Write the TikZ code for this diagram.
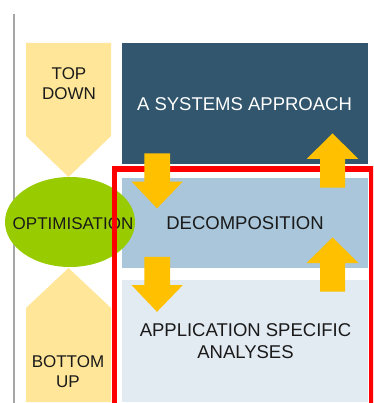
\documentclass[tikz,border=0pt]{standalone}
\usepackage{fontspec}
\setmainfont{Liberation Sans}
\usetikzlibrary{shapes.geometric}
\definecolor{darkbox}{RGB}{49,86,109}
\definecolor{midbox}{RGB}{169,198,218}
\definecolor{lightbox}{RGB}{226,234,242}
\definecolor{pent}{RGB}{255,230,153}
\definecolor{optgreen}{RGB}{153,204,0}
\definecolor{arrowyel}{RGB}{255,192,0}
\definecolor{framered}{RGB}{255,0,0}
\definecolor{axisgray}{RGB}{166,166,166}
\definecolor{txt}{RGB}{26,26,26}
\tikzset{
  lefttext/.style={font=\fontsize{17}{20}\selectfont, text=txt, align=center, inner sep=0pt},
  righttext/.style={font=\fontsize{18.5}{22.5}\selectfont, text=txt, align=center, inner sep=0pt},
  blockarrow/.style={fill=arrowyel, draw=none},
  redframe/.style={draw=framered, line width=5pt},
}
\begin{document}
\begin{tikzpicture}[x=1pt,y=-1pt]
\clip (0,0) rectangle (373,403);
\fill[white] (0,0) rectangle (373,403);
% axis line
\draw[axisgray, line width=1.6pt] (14,14) -- (14,410);
% pentagons
\fill[pent] (26,43) -- (111,43) -- (111,136) -- (68.5,177) -- (26,136) -- cycle;
\fill[pent] (26,402) -- (26,308) -- (68.5,268) -- (111,308) -- (111,402) -- cycle;
% boxes
\fill[darkbox] (122,43) rectangle (368,164);
\fill[midbox] (122,178) rectangle (368,268);
\fill[lightbox] (122,280) rectangle (368,402);
% ellipse
\node[ellipse, fill=optgreen, minimum width=130pt, minimum height=90pt, inner sep=0pt] (opt) at (70,222) {};
% texts
\node[lefttext] (td) at (69,83.5) {TOP\\DOWN};
\node[lefttext] (bu) at (68,371.5) {BOTTOM\\UP};
\node[lefttext] (optlabel) at (73,224) {OPTIMISATION};
\node[righttext, text=white] (sys) at (244.5,104.5) {A SYSTEMS APPROACH};
\node[righttext] (dec) at (245,223.5) {DECOMPOSITION};
\node[righttext] (app) at (245.5,341) {APPLICATION SPECIFIC\\ANALYSES};
% red frame
\draw[redframe] (114,420) -- (114,169) -- (371.5,169) -- (371.5,420);
% arrows down
\foreach \dy in {0,103.5}{
  \fill[blockarrow] (144.3,153.3+\dy) -- (170,153.3+\dy) -- (170,181.7+\dy) -- (182.7,181.7+\dy)
    -- (157,208.3+\dy) -- (131.7,181.7+\dy) -- (144.3,181.7+\dy) -- cycle;
}
% arrows up
\foreach \dy in {0,104}{
  \fill[blockarrow] (320,187.7+\dy) -- (345,187.7+\dy) -- (345,159+\dy) -- (358.3,159+\dy)
    -- (332.5,133.3+\dy) -- (306.7,159+\dy) -- (320,159+\dy) -- cycle;
}
\end{tikzpicture}
\end{document}
